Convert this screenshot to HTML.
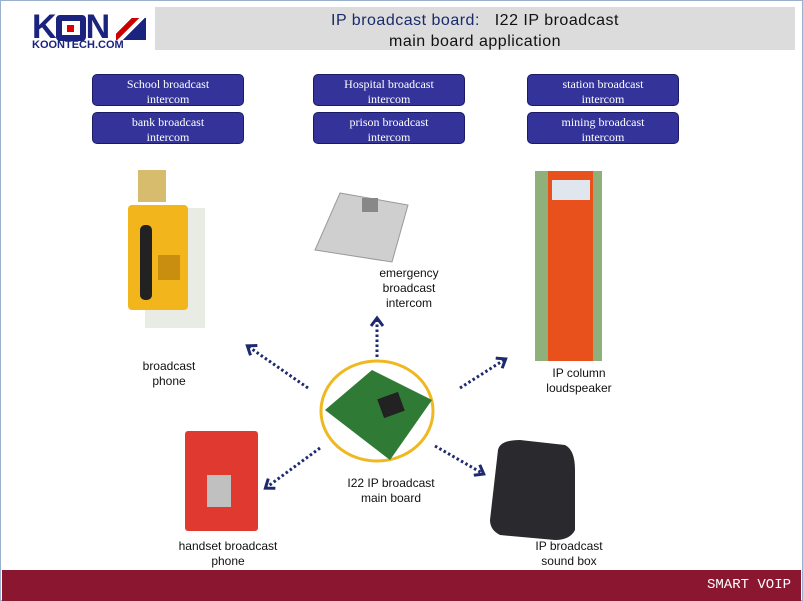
<!DOCTYPE html>
<html><head><meta charset="utf-8"><style>
body{margin:0;width:803px;height:601px;position:relative;background:#fff;overflow:hidden;font-family:"Liberation Sans",sans-serif}
.abs{position:absolute}
.btn{position:absolute;width:152px;height:32px;background:#333399;border:1px solid #1a1a66;border-radius:5px;color:#fff;font-family:"Liberation Serif",serif;font-size:12px;line-height:15px;text-align:center;box-sizing:border-box;padding-top:2px}
.lbl{position:absolute;font-size:12px;line-height:15px;text-align:center;color:#111}
</style></head><body>
<div class="abs" style="left:0;top:0;width:801px;height:599px;border:1px solid #9bb0cc"></div>
<div class="abs" style="left:155px;top:7px;width:640px;height:43px;background:#dcdcdc"></div>
<div class="abs" style="left:155px;top:10px;width:640px;text-align:center;font-family:'Liberation Sans',sans-serif;font-size:16px;line-height:21px;color:#111;letter-spacing:0.5px"><span style="color:#1a2a6a">IP broadcast board:</span> &nbsp;&nbsp;I22 IP broadcast<br>main board application</div>
<!-- logo -->
<div class="abs" style="left:32px;top:12px;font-size:34px;font-weight:bold;color:#1a237e;letter-spacing:-1px;line-height:30px">K<span style="display:inline-block;width:30px;height:26px;border:6px solid #1a237e;box-sizing:border-box;vertical-align:-3px;border-radius:4px;background:#fff;position:relative"><span style="position:absolute;left:5px;top:4px;width:7px;height:7px;background:#d00"></span></span>N</div>
<div class="abs" style="left:116px;top:18px;width:30px;height:22px;background:linear-gradient(135deg,#fff 30%,#c00 30%,#c00 45%,#fff 45%,#fff 55%,#1a237e 55%)"></div>
<div class="abs" style="left:32px;top:39px;font-size:11px;font-weight:bold;color:#1a237e">KOONTECH.COM</div>

<div class="btn" style="left:92px;top:74px">School broadcast<br>intercom</div>
<div class="btn" style="left:92px;top:112px">bank broadcast<br>intercom</div>
<div class="btn" style="left:313px;top:74px">Hospital broadcast<br>intercom</div>
<div class="btn" style="left:313px;top:112px">prison broadcast<br>intercom</div>
<div class="btn" style="left:527px;top:74px">station broadcast<br>intercom</div>
<div class="btn" style="left:527px;top:112px">mining broadcast<br>intercom</div>

<svg class="abs" style="left:0;top:0" width="803" height="601">
<defs><marker id="a" markerUnits="userSpaceOnUse" markerWidth="14" markerHeight="14" refX="7" refY="7" orient="auto"><path d="M1,1 L9,7 L1,13" fill="none" stroke="#1e2a6e" stroke-width="3"/></marker></defs>
<rect x="145" y="208" width="60" height="120" fill="#e8ece4"/>
<rect x="128" y="205" width="60" height="105" fill="#f2b61c" rx="4"/>
<rect x="140" y="225" width="12" height="75" fill="#222" rx="5"/>
<rect x="158" y="255" width="22" height="25" fill="#c98d10"/>
<rect x="138" y="170" width="28" height="32" fill="#c8a030" opacity=".7"/>
<polygon points="340,193 408,205 392,262 315,250" fill="#cfcfcf" stroke="#999"/>
<rect x="362" y="198" width="16" height="14" fill="#888"/>
<rect x="535" y="171" width="67" height="190" fill="#8fb07a"/>
<rect x="548" y="171" width="45" height="190" fill="#e8501c"/>
<rect x="552" y="180" width="38" height="20" fill="#dfe6ee"/>
<ellipse cx="377" cy="411" rx="56" ry="50" fill="#fff" stroke="#f0b820" stroke-width="3"/>
<polygon points="325,410 372,370 432,400 390,460" fill="#2f7a35"/>
<rect x="380" y="395" width="22" height="20" fill="#222" transform="rotate(-20 391 405)"/>
<rect x="185" y="431" width="73" height="100" fill="#e03a30" rx="3"/>
<rect x="207" y="475" width="24" height="32" fill="#c0c0c0"/>
<path d="M498,450 Q500,440 520,440 L565,445 Q575,450 575,470 L575,530 Q570,540 555,540 L500,535 Q490,530 490,520 Z" fill="#2a2a2e"/>
<g stroke="#1e2a6e" stroke-width="3" stroke-dasharray="2.5 2.5" fill="none" marker-end="url(#a)">
<line x1="377" y1="357" x2="377" y2="320"/>
<line x1="308" y1="388" x2="249" y2="347"/>
<line x1="460" y1="388" x2="504" y2="360"/>
<line x1="320" y1="448" x2="267" y2="487"/>
<line x1="435" y1="446" x2="482" y2="473"/>
</g>
</svg>

<div class="lbl" style="left:119px;top:359px;width:100px">broadcast<br>phone</div>
<div class="lbl" style="left:359px;top:266px;width:100px">emergency<br>broadcast<br>intercom</div>
<div class="lbl" style="left:529px;top:366px;width:100px">IP column<br>loudspeaker</div>
<div class="lbl" style="left:331px;top:476px;width:120px">I22 IP broadcast<br>main board</div>
<div class="lbl" style="left:163px;top:539px;width:130px">handset broadcast<br>phone</div>
<div class="lbl" style="left:509px;top:539px;width:120px">IP broadcast<br>sound box</div>

<div class="abs" style="left:2px;top:570px;width:799px;height:31px;background:#8b1630"></div>
<div class="abs" style="right:12px;top:577px;color:#fff;font-family:'Liberation Mono',monospace;font-size:14px">SMART VOIP</div>
</body></html>
